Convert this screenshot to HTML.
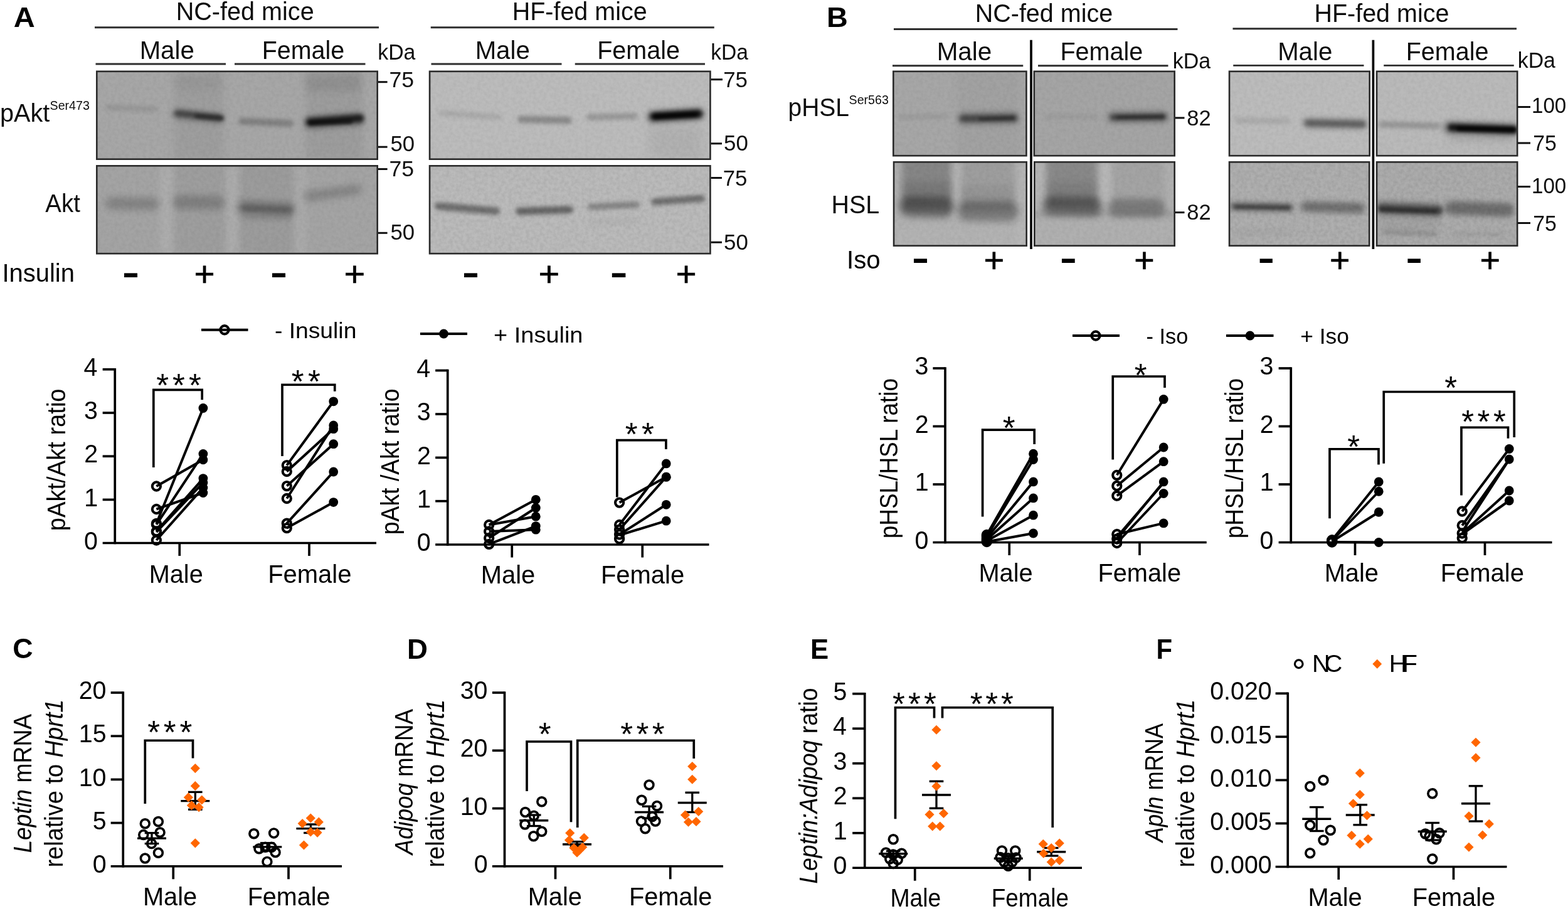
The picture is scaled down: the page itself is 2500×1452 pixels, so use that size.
<!DOCTYPE html>
<html><head><meta charset="utf-8"><title>Figure</title>
<style>html,body{margin:0;padding:0;background:#fff}svg{display:block}text{font-family:"Liberation Sans",Arial,Helvetica,sans-serif}</style>
</head><body>
<svg width="2500" height="1452" viewBox="0 0 2500 1452">
<rect width="2500" height="1452" fill="#fff"/>
<defs>
<filter id="b2" x="-30%" y="-300%" width="160%" height="700%"><feGaussianBlur stdDeviation="2"/></filter>
<filter id="b3" x="-30%" y="-300%" width="160%" height="700%"><feGaussianBlur stdDeviation="3"/></filter>
<filter id="b4" x="-30%" y="-300%" width="160%" height="700%"><feGaussianBlur stdDeviation="4"/></filter>
<filter id="b6" x="-30%" y="-300%" width="160%" height="700%"><feGaussianBlur stdDeviation="6"/></filter>
<filter id="b10" x="-30%" y="-300%" width="160%" height="700%"><feGaussianBlur stdDeviation="10"/></filter>
<filter id="grain" x="0" y="0" width="100%" height="100%"><feTurbulence type="fractalNoise" baseFrequency="0.18" numOctaves="3" seed="3"/><feColorMatrix type="matrix" values="0 0 0 0 0  0 0 0 0 0  0 0 0 0 0  1.6 0 0 0 -0.5"/></filter>
</defs>
<text transform="translate(21.75,43.00) scale(1.0527,1)" font-size="44.66" font-weight="bold" xml:space="preserve">A</text>
<text transform="translate(1317.89,43.00) scale(1.0462,1)" font-size="44.66" font-weight="bold" xml:space="preserve">B</text>
<text transform="translate(20.21,1049.30) scale(1.0025,1)" font-size="44.66" font-weight="bold" xml:space="preserve">C</text>
<text transform="translate(648.96,1049.50) scale(1.0222,1)" font-size="44.66" font-weight="bold" xml:space="preserve">D</text>
<text transform="translate(1292.08,1049.50) scale(0.9796,1)" font-size="44.66" font-weight="bold" xml:space="preserve">E</text>
<text transform="translate(1843.45,1049.50) scale(0.9391,1)" font-size="44.66" font-weight="bold" xml:space="preserve">F</text>
<text transform="translate(280.70,32.00) scale(0.9901,1)" font-size="39.99" fill="#0d0d0d" xml:space="preserve">NC-fed mice</text>
<line x1="151.00" y1="43.75" x2="604.00" y2="43.75" stroke="#2e2e2e" stroke-width="2.90"/>
<text transform="translate(222.65,94.00) scale(1.0051,1)" font-size="39.99" fill="#0d0d0d" xml:space="preserve">Male</text>
<text transform="translate(417.72,94.00) scale(0.9854,1)" font-size="39.99" fill="#0d0d0d" xml:space="preserve">Female</text>
<line x1="152.50" y1="102.00" x2="360.00" y2="102.00" stroke="#2e2e2e" stroke-width="2.90"/>
<line x1="374.00" y1="102.00" x2="582.50" y2="102.00" stroke="#2e2e2e" stroke-width="2.90"/>
<text transform="translate(602.24,95.00) scale(0.9529,1)" font-size="35.52" fill="#0d0d0d" xml:space="preserve">kDa</text>
<text transform="translate(816.71,32.00) scale(0.9871,1)" font-size="39.99" fill="#0d0d0d" xml:space="preserve">HF-fed mice</text>
<line x1="686.75" y1="43.75" x2="1138.75" y2="43.75" stroke="#2e2e2e" stroke-width="2.90"/>
<text transform="translate(757.65,94.00) scale(1.0051,1)" font-size="39.99" fill="#0d0d0d" xml:space="preserve">Male</text>
<text transform="translate(952.20,94.00) scale(0.9893,1)" font-size="39.99" fill="#0d0d0d" xml:space="preserve">Female</text>
<line x1="687.50" y1="102.00" x2="895.50" y2="102.00" stroke="#2e2e2e" stroke-width="2.90"/>
<line x1="916.75" y1="102.00" x2="1124.00" y2="102.00" stroke="#2e2e2e" stroke-width="2.90"/>
<text transform="translate(1133.16,95.00) scale(0.9463,1)" font-size="35.52" fill="#0d0d0d" xml:space="preserve">kDa</text>
<clipPath id="c1"><rect x="154.00" y="113.50" width="448.00" height="140.50"/></clipPath>
<rect x="154.00" y="113.50" width="448.00" height="140.50" fill="#a7a7a7"/>
<g clip-path="url(#c1)">
<rect x="277.0" y="113.0" width="80.0" height="142.0" fill="#000" fill-opacity="0.05" filter="url(#b6)"/>
<rect x="487.0" y="113.0" width="92.0" height="142.0" fill="#000" fill-opacity="0.06" filter="url(#b6)"/>
<rect x="487.0" y="118.0" width="88.0" height="28.0" fill="#000" fill-opacity="0.08" filter="url(#b6)"/>
<rect x="280.0" y="120.0" width="72.0" height="24.0" fill="#000" fill-opacity="0.04" filter="url(#b6)"/>
<rect x="168.0" y="166.5" width="84.1" height="9.0" rx="4.5" fill="#000" fill-opacity="0.10" transform="rotate(2.05 168.0 171.0)" filter="url(#b3)"/>
<rect x="274.0" y="172.0" width="84.5" height="18.0" rx="9.0" fill="#000" fill-opacity="0.22" transform="rotate(6.12 274.0 181.0)" filter="url(#b4)"/>
<rect x="278.0" y="175.0" width="78.4" height="10.0" rx="5.0" fill="#000" fill-opacity="0.45" transform="rotate(5.86 278.0 180.0)" filter="url(#b3)"/>
<rect x="310.0" y="181.0" width="47.2" height="8.0" rx="4.0" fill="#000" fill-opacity="0.35" transform="rotate(4.86 310.0 185.0)" filter="url(#b2)"/>
<rect x="380.0" y="187.5" width="88.1" height="11.0" rx="5.5" fill="#000" fill-opacity="0.24" transform="rotate(2.60 380.0 193.0)" filter="url(#b3)"/>
<rect x="484.0" y="185.0" width="98.2" height="22.0" rx="11.0" fill="#000" fill-opacity="0.30" transform="rotate(-4.09 484.0 196.0)" filter="url(#b4)"/>
<rect x="488.0" y="189.0" width="92.3" height="12.0" rx="6.0" fill="#000" fill-opacity="0.75" transform="rotate(-4.35 488.0 195.0)" filter="url(#b3)"/>
<rect x="492.0" y="192.5" width="70.0" height="7.0" rx="3.5" fill="#000" fill-opacity="0.50" transform="rotate(-1.64 492.0 196.0)" filter="url(#b2)"/>
<rect x="153.00" y="112.50" width="450.00" height="142.50" filter="url(#grain)" opacity="0.05"/>
</g>
<rect x="154.30" y="113.80" width="447.40" height="139.90" fill="none" stroke="#2a2a2a" stroke-width="2.6"/>
<clipPath id="c2"><rect x="154.00" y="264.00" width="448.00" height="140.50"/></clipPath>
<rect x="154.00" y="264.00" width="448.00" height="140.50" fill="#a4a4a4"/>
<g clip-path="url(#c2)">
<rect x="255.0" y="263.0" width="22.0" height="143.0" fill="#fff" fill-opacity="0.10" filter="url(#b6)"/>
<rect x="362.0" y="263.0" width="20.0" height="143.0" fill="#fff" fill-opacity="0.10" filter="url(#b6)"/>
<rect x="470.0" y="263.0" width="18.0" height="143.0" fill="#fff" fill-opacity="0.08" filter="url(#b6)"/>
<rect x="277.0" y="263.0" width="80.0" height="143.0" fill="#000" fill-opacity="0.04" filter="url(#b6)"/>
<rect x="380.0" y="263.0" width="88.0" height="143.0" fill="#000" fill-opacity="0.05" filter="url(#b6)"/>
<rect x="168.0" y="314.0" width="86.0" height="20.0" rx="10.0" fill="#000" fill-opacity="0.20" transform="rotate(0.67 168.0 324.0)" filter="url(#b6)"/>
<rect x="275.0" y="311.0" width="83.0" height="22.0" rx="11.0" fill="#000" fill-opacity="0.20" transform="rotate(0.69 275.0 322.0)" filter="url(#b6)"/>
<rect x="378.0" y="320.0" width="92.1" height="20.0" rx="10.0" fill="#000" fill-opacity="0.30" transform="rotate(2.49 378.0 330.0)" filter="url(#b6)"/>
<rect x="385.0" y="328.0" width="81.1" height="8.0" rx="4.0" fill="#000" fill-opacity="0.15" transform="rotate(2.12 385.0 332.0)" filter="url(#b3)"/>
<rect x="385.0" y="341.0" width="81.0" height="10.0" rx="5.0" fill="#000" fill-opacity="0.08" transform="rotate(0.71 385.0 346.0)" filter="url(#b4)"/>
<rect x="484.0" y="306.0" width="93.9" height="16.0" rx="8.0" fill="#000" fill-opacity="0.20" transform="rotate(-7.96 484.0 314.0)" filter="url(#b6)"/>
<rect x="153.00" y="263.00" width="450.00" height="142.50" filter="url(#grain)" opacity="0.05"/>
</g>
<rect x="154.30" y="264.30" width="447.40" height="139.90" fill="none" stroke="#2a2a2a" stroke-width="2.6"/>
<clipPath id="c3"><rect x="684.75" y="113.50" width="448.00" height="140.50"/></clipPath>
<rect x="684.75" y="113.50" width="448.00" height="140.50" fill="#bcbcbc"/>
<g clip-path="url(#c3)">
<rect x="1035.0" y="200.0" width="85.0" height="55.0" fill="#000" fill-opacity="0.06" filter="url(#b10)"/>
<rect x="700.0" y="175.5" width="100.2" height="9.0" rx="4.5" fill="#000" fill-opacity="0.10" transform="rotate(4.00 700.0 180.0)" filter="url(#b3)"/>
<rect x="825.0" y="184.5" width="87.0" height="11.0" rx="5.5" fill="#000" fill-opacity="0.28" transform="rotate(1.32 825.0 190.0)" filter="url(#b3)"/>
<rect x="935.0" y="182.0" width="82.0" height="10.0" rx="5.0" fill="#000" fill-opacity="0.20" transform="rotate(-1.40 935.0 187.0)" filter="url(#b3)"/>
<rect x="1030.0" y="176.0" width="94.2" height="22.0" rx="11.0" fill="#000" fill-opacity="0.30" transform="rotate(-3.65 1030.0 187.0)" filter="url(#b4)"/>
<rect x="1036.0" y="179.5" width="84.1" height="13.0" rx="6.5" fill="#000" fill-opacity="0.85" transform="rotate(-3.41 1036.0 186.0)" filter="url(#b3)"/>
<rect x="1042.0" y="182.5" width="70.1" height="7.0" rx="3.5" fill="#000" fill-opacity="0.70" transform="rotate(-3.27 1042.0 186.0)" filter="url(#b2)"/>
<rect x="683.75" y="112.50" width="450.00" height="142.50" filter="url(#grain)" opacity="0.05"/>
</g>
<rect x="685.05" y="113.80" width="447.40" height="139.90" fill="none" stroke="#2a2a2a" stroke-width="2.6"/>
<clipPath id="c4"><rect x="684.75" y="264.00" width="448.00" height="140.50"/></clipPath>
<rect x="684.75" y="264.00" width="448.00" height="140.50" fill="#bbbbbb"/>
<g clip-path="url(#c4)">
<rect x="693.0" y="322.0" width="104.4" height="12.0" rx="6.0" fill="#000" fill-opacity="0.42" transform="rotate(4.95 693.0 328.0)" filter="url(#b3)"/>
<rect x="822.0" y="331.0" width="92.0" height="12.0" rx="6.0" fill="#000" fill-opacity="0.46" transform="rotate(-1.87 822.0 337.0)" filter="url(#b3)"/>
<rect x="937.0" y="325.0" width="83.1" height="10.0" rx="5.0" fill="#000" fill-opacity="0.30" transform="rotate(-2.76 937.0 330.0)" filter="url(#b3)"/>
<rect x="1038.0" y="316.5" width="86.2" height="11.0" rx="5.5" fill="#000" fill-opacity="0.42" transform="rotate(-3.99 1038.0 322.0)" filter="url(#b3)"/>
<rect x="940.0" y="350.0" width="78.0" height="8.0" fill="#000" fill-opacity="0.05" filter="url(#b4)"/>
<rect x="683.75" y="263.00" width="450.00" height="142.50" filter="url(#grain)" opacity="0.08"/>
</g>
<rect x="685.05" y="264.30" width="447.40" height="139.90" fill="none" stroke="#2a2a2a" stroke-width="2.6"/>
<line x1="603.00" y1="130.70" x2="617.60" y2="130.70" stroke="#111" stroke-width="3.00"/>
<text transform="translate(620.42,138.80) scale(1.0341,1)" font-size="34.51" fill="#111" xml:space="preserve">75</text>
<line x1="603.00" y1="234.20" x2="617.60" y2="234.20" stroke="#111" stroke-width="3.00"/>
<text transform="translate(622.41,240.60) scale(1.0067,1)" font-size="34.51" fill="#111" xml:space="preserve">50</text>
<line x1="603.00" y1="269.50" x2="617.60" y2="269.50" stroke="#111" stroke-width="3.00"/>
<text transform="translate(620.42,281.00) scale(1.0341,1)" font-size="34.51" fill="#111" xml:space="preserve">75</text>
<line x1="603.00" y1="371.30" x2="617.60" y2="371.30" stroke="#111" stroke-width="3.00"/>
<text transform="translate(622.41,382.40) scale(1.0067,1)" font-size="34.51" fill="#111" xml:space="preserve">50</text>
<line x1="1133.50" y1="126.70" x2="1152.00" y2="126.70" stroke="#111" stroke-width="3.00"/>
<text transform="translate(1153.15,139.00) scale(1.0114,1)" font-size="34.51" fill="#111" xml:space="preserve">75</text>
<line x1="1133.50" y1="228.80" x2="1151.00" y2="228.80" stroke="#111" stroke-width="3.00"/>
<text transform="translate(1154.11,240.40) scale(1.0095,1)" font-size="34.51" fill="#111" xml:space="preserve">50</text>
<line x1="1133.50" y1="283.50" x2="1151.00" y2="283.50" stroke="#111" stroke-width="3.00"/>
<text transform="translate(1152.76,295.60) scale(1.0085,1)" font-size="34.51" fill="#111" xml:space="preserve">75</text>
<line x1="1133.50" y1="386.20" x2="1151.00" y2="386.20" stroke="#111" stroke-width="3.00"/>
<text transform="translate(1154.11,398.00) scale(1.0095,1)" font-size="34.51" fill="#111" xml:space="preserve">50</text>
<text transform="translate(-0.01,194.00) scale(0.9912,1)" font-size="39.99" fill="#0d0d0d" xml:space="preserve">pAkt</text>
<text transform="translate(79.59,175.00) scale(0.9906,1)" font-size="19.79" fill="#0d0d0d" xml:space="preserve">Ser473</text>
<text transform="translate(72.37,338.00) scale(0.9595,1)" font-size="39.99" fill="#0d0d0d" xml:space="preserve">Akt</text>
<text transform="translate(3.47,449.30) scale(0.9993,1)" font-size="39.99" xml:space="preserve">Insulin</text>
<text transform="translate(194.68,452.67) scale(1.3370,0.9005)" font-size="62" font-weight="bold">-</text>
<text transform="translate(430.68,452.67) scale(1.3370,0.9005)" font-size="62" font-weight="bold">-</text>
<text transform="translate(736.68,452.67) scale(1.3370,0.9005)" font-size="62" font-weight="bold">-</text>
<text transform="translate(972.61,452.67) scale(1.3688,0.9005)" font-size="62" font-weight="bold">-</text>
<text transform="translate(309.47,456.48) scale(0.9946,0.9667)" font-size="57" stroke="#000" stroke-width="0.65">+</text>
<text transform="translate(548.41,456.48) scale(1.0127,0.9667)" font-size="57" stroke="#000" stroke-width="0.65">+</text>
<text transform="translate(858.41,456.48) scale(1.0127,0.9667)" font-size="57" stroke="#000" stroke-width="0.65">+</text>
<text transform="translate(1077.47,456.48) scale(0.9946,0.9667)" font-size="57" stroke="#000" stroke-width="0.65">+</text>
<text transform="translate(1554.71,35.00) scale(0.9878,1)" font-size="39.99" fill="#0d0d0d" xml:space="preserve">NC-fed mice</text>
<line x1="1425.00" y1="46.50" x2="1877.50" y2="46.50" stroke="#2e2e2e" stroke-width="2.90"/>
<text transform="translate(1493.63,96.30) scale(1.0113,1)" font-size="39.99" fill="#0d0d0d" xml:space="preserve">Male</text>
<text transform="translate(1690.45,96.30) scale(0.9893,1)" font-size="39.99" fill="#0d0d0d" xml:space="preserve">Female</text>
<line x1="1423.00" y1="104.80" x2="1631.25" y2="104.80" stroke="#2e2e2e" stroke-width="2.90"/>
<line x1="1655.00" y1="104.80" x2="1862.50" y2="104.80" stroke="#2e2e2e" stroke-width="2.90"/>
<text transform="translate(1869.73,108.60) scale(0.9578,1)" font-size="35.52" fill="#0d0d0d" xml:space="preserve">kDa</text>
<text transform="translate(2095.46,34.70) scale(0.9871,1)" font-size="39.99" fill="#0d0d0d" xml:space="preserve">HF-fed mice</text>
<line x1="1965.50" y1="45.75" x2="2418.00" y2="45.75" stroke="#2e2e2e" stroke-width="2.90"/>
<text transform="translate(2037.15,96.30) scale(1.0051,1)" font-size="39.99" fill="#0d0d0d" xml:space="preserve">Male</text>
<text transform="translate(2241.70,96.30) scale(0.9893,1)" font-size="39.99" fill="#0d0d0d" xml:space="preserve">Female</text>
<line x1="1966.25" y1="104.40" x2="2174.50" y2="104.40" stroke="#2e2e2e" stroke-width="2.90"/>
<line x1="2206.25" y1="104.40" x2="2413.75" y2="104.40" stroke="#2e2e2e" stroke-width="2.90"/>
<text transform="translate(2419.74,108.00) scale(0.9529,1)" font-size="35.52" fill="#0d0d0d" xml:space="preserve">kDa</text>
<line x1="1644.00" y1="63.75" x2="1644.00" y2="397.00" stroke="#0a0a0a" stroke-width="3.80"/>
<line x1="2189.40" y1="63.75" x2="2189.40" y2="397.00" stroke="#0a0a0a" stroke-width="3.80"/>
<clipPath id="c5"><rect x="1424.00" y="113.50" width="212.75" height="135.00"/></clipPath>
<rect x="1424.00" y="113.50" width="212.75" height="135.00" fill="#a7a7a7"/>
<g clip-path="url(#c5)">
<rect x="1525.0" y="113.0" width="100.0" height="137.0" fill="#000" fill-opacity="0.03" filter="url(#b6)"/>
<rect x="1432.0" y="182.0" width="80.0" height="8.0" rx="4.0" fill="#000" fill-opacity="0.07" transform="rotate(0.00 1432.0 186.0)" filter="url(#b3)"/>
<rect x="1526.0" y="178.0" width="100.0" height="22.0" rx="11.0" fill="#000" fill-opacity="0.20" transform="rotate(-0.57 1526.0 189.0)" filter="url(#b4)"/>
<rect x="1530.0" y="183.5" width="92.0" height="11.0" rx="5.5" fill="#000" fill-opacity="0.46" transform="rotate(-0.62 1530.0 189.0)" filter="url(#b3)"/>
<rect x="1560.0" y="187.0" width="58.0" height="6.0" rx="3.0" fill="#000" fill-opacity="0.30" transform="rotate(-1.97 1560.0 190.0)" filter="url(#b2)"/>
<rect x="1423.00" y="112.50" width="214.75" height="137.00" filter="url(#grain)" opacity="0.05"/>
</g>
<rect x="1424.30" y="113.80" width="212.15" height="134.40" fill="none" stroke="#2a2a2a" stroke-width="2.6"/>
<clipPath id="c6"><rect x="1648.50" y="113.50" width="224.50" height="135.00"/></clipPath>
<rect x="1648.50" y="113.50" width="224.50" height="135.00" fill="#a5a5a5"/>
<g clip-path="url(#c6)">
<rect x="1665.0" y="182.0" width="85.0" height="8.0" rx="4.0" fill="#000" fill-opacity="0.06" transform="rotate(0.00 1665.0 186.0)" filter="url(#b3)"/>
<rect x="1764.0" y="176.5" width="100.0" height="21.0" rx="10.5" fill="#000" fill-opacity="0.20" transform="rotate(-0.57 1764.0 187.0)" filter="url(#b4)"/>
<rect x="1770.0" y="182.0" width="90.0" height="10.0" rx="5.0" fill="#000" fill-opacity="0.50" transform="rotate(-0.64 1770.0 187.0)" filter="url(#b3)"/>
<rect x="1780.0" y="184.5" width="76.0" height="5.0" rx="2.5" fill="#000" fill-opacity="0.35" transform="rotate(-0.75 1780.0 187.0)" filter="url(#b2)"/>
<rect x="1647.50" y="112.50" width="226.50" height="137.00" filter="url(#grain)" opacity="0.05"/>
</g>
<rect x="1648.80" y="113.80" width="223.90" height="134.40" fill="none" stroke="#2a2a2a" stroke-width="2.6"/>
<clipPath id="c7"><rect x="1424.75" y="258.00" width="212.25" height="134.00"/></clipPath>
<rect x="1424.75" y="258.00" width="212.25" height="134.00" fill="#b0b0b0"/>
<g clip-path="url(#c7)">
<rect x="1438.0" y="250.0" width="80.0" height="75.0" fill="#000" fill-opacity="0.24" filter="url(#b6)"/>
<rect x="1530.0" y="250.0" width="88.0" height="85.0" fill="#000" fill-opacity="0.10" filter="url(#b6)"/>
<rect x="1516.0" y="257.0" width="18.0" height="90.0" fill="#fff" fill-opacity="0.10" filter="url(#b4)"/>
<rect x="1622.0" y="257.0" width="16.0" height="136.0" fill="#fff" fill-opacity="0.06" filter="url(#b4)"/>
<rect x="1434.0" y="313.0" width="87.0" height="32.0" rx="16.0" fill="#000" fill-opacity="0.40" transform="rotate(1.32 1434.0 329.0)" filter="url(#b6)"/>
<rect x="1440.0" y="325.0" width="76.0" height="12.0" rx="6.0" fill="#000" fill-opacity="0.12" transform="rotate(0.75 1440.0 331.0)" filter="url(#b4)"/>
<rect x="1438.0" y="290.0" width="80.0" height="40.0" fill="#000" fill-opacity="0.10" filter="url(#b6)"/>
<rect x="1526.0" y="320.0" width="98.0" height="32.0" rx="16.0" fill="#000" fill-opacity="0.30" transform="rotate(0.58 1526.0 336.0)" filter="url(#b6)"/>
<rect x="1530.0" y="295.0" width="88.0" height="40.0" fill="#000" fill-opacity="0.06" filter="url(#b6)"/>
<rect x="1424.0" y="360.0" width="214.0" height="40.0" fill="#fff" fill-opacity="0.04" filter="url(#b6)"/>
<rect x="1423.75" y="257.00" width="214.25" height="136.00" filter="url(#grain)" opacity="0.05"/>
</g>
<rect x="1425.05" y="258.30" width="211.65" height="133.40" fill="none" stroke="#2a2a2a" stroke-width="2.6"/>
<clipPath id="c8"><rect x="1649.00" y="258.00" width="224.00" height="134.00"/></clipPath>
<rect x="1649.00" y="258.00" width="224.00" height="134.00" fill="#b0b0b0"/>
<g clip-path="url(#c8)">
<rect x="1668.0" y="250.0" width="82.0" height="75.0" fill="#000" fill-opacity="0.22" filter="url(#b6)"/>
<rect x="1772.0" y="250.0" width="84.0" height="80.0" fill="#000" fill-opacity="0.07" filter="url(#b6)"/>
<rect x="1752.0" y="257.0" width="20.0" height="90.0" fill="#fff" fill-opacity="0.10" filter="url(#b4)"/>
<rect x="1650.0" y="257.0" width="16.0" height="80.0" fill="#fff" fill-opacity="0.06" filter="url(#b4)"/>
<rect x="1662.0" y="313.0" width="96.0" height="30.0" rx="15.0" fill="#000" fill-opacity="0.38" transform="rotate(1.19 1662.0 328.0)" filter="url(#b6)"/>
<rect x="1672.0" y="323.0" width="78.0" height="10.0" rx="5.0" fill="#000" fill-opacity="0.12" transform="rotate(1.47 1672.0 328.0)" filter="url(#b4)"/>
<rect x="1668.0" y="290.0" width="82.0" height="38.0" fill="#000" fill-opacity="0.08" filter="url(#b6)"/>
<rect x="1766.0" y="317.0" width="92.0" height="28.0" rx="14.0" fill="#000" fill-opacity="0.28" transform="rotate(0.62 1766.0 331.0)" filter="url(#b6)"/>
<rect x="1648.0" y="336.0" width="226.0" height="10.0" fill="#000" fill-opacity="0.10" filter="url(#b4)"/>
<rect x="1648.00" y="257.00" width="226.00" height="136.00" filter="url(#grain)" opacity="0.05"/>
</g>
<rect x="1649.30" y="258.30" width="223.40" height="133.40" fill="none" stroke="#2a2a2a" stroke-width="2.6"/>
<clipPath id="c9"><rect x="1959.75" y="113.50" width="224.25" height="135.00"/></clipPath>
<rect x="1959.75" y="113.50" width="224.25" height="135.00" fill="#bcbcbc"/>
<g clip-path="url(#c9)">
<rect x="1968.0" y="187.5" width="89.0" height="9.0" rx="4.5" fill="#000" fill-opacity="0.10" transform="rotate(0.64 1968.0 192.0)" filter="url(#b3)"/>
<rect x="2076.0" y="187.0" width="104.0" height="18.0" rx="9.0" fill="#000" fill-opacity="0.22" transform="rotate(1.10 2076.0 196.0)" filter="url(#b4)"/>
<rect x="2080.0" y="191.0" width="98.0" height="10.0" rx="5.0" fill="#000" fill-opacity="0.36" transform="rotate(1.17 2080.0 196.0)" filter="url(#b3)"/>
<rect x="1958.75" y="112.50" width="226.25" height="137.00" filter="url(#grain)" opacity="0.05"/>
</g>
<rect x="1960.05" y="113.80" width="223.65" height="134.40" fill="none" stroke="#2a2a2a" stroke-width="2.6"/>
<clipPath id="c10"><rect x="2194.75" y="113.50" width="224.75" height="135.00"/></clipPath>
<rect x="2194.75" y="113.50" width="224.75" height="135.00" fill="#bababa"/>
<g clip-path="url(#c10)">
<rect x="2198.0" y="193.0" width="98.0" height="10.0" rx="5.0" fill="#000" fill-opacity="0.20" transform="rotate(1.75 2198.0 198.0)" filter="url(#b3)"/>
<rect x="2300.0" y="192.0" width="122.1" height="22.0" rx="11.0" fill="#000" fill-opacity="0.30" transform="rotate(1.88 2300.0 203.0)" filter="url(#b4)"/>
<rect x="2308.0" y="197.0" width="112.1" height="12.0" rx="6.0" fill="#000" fill-opacity="0.85" transform="rotate(2.05 2308.0 203.0)" filter="url(#b3)"/>
<rect x="2322.0" y="201.5" width="94.0" height="7.0" rx="3.5" fill="#000" fill-opacity="0.70" transform="rotate(1.22 2322.0 205.0)" filter="url(#b2)"/>
<rect x="2310.0" y="215.0" width="100.0" height="12.0" fill="#000" fill-opacity="0.08" filter="url(#b6)"/>
<rect x="2193.75" y="112.50" width="226.75" height="137.00" filter="url(#grain)" opacity="0.05"/>
</g>
<rect x="2195.05" y="113.80" width="224.15" height="134.40" fill="none" stroke="#2a2a2a" stroke-width="2.6"/>
<clipPath id="c11"><rect x="1959.75" y="258.00" width="223.75" height="134.00"/></clipPath>
<rect x="1959.75" y="258.00" width="223.75" height="134.00" fill="#afafaf"/>
<g clip-path="url(#c11)">
<rect x="1960.0" y="321.0" width="104.0" height="16.0" rx="8.0" fill="#000" fill-opacity="0.22" transform="rotate(1.10 1960.0 329.0)" filter="url(#b4)"/>
<rect x="1964.0" y="324.5" width="96.0" height="9.0" rx="4.5" fill="#000" fill-opacity="0.42" transform="rotate(1.19 1964.0 329.0)" filter="url(#b3)"/>
<rect x="1970.0" y="328.0" width="86.0" height="4.0" rx="2.0" fill="#000" fill-opacity="0.25" transform="rotate(0.67 1970.0 330.0)" filter="url(#b2)"/>
<rect x="2074.0" y="320.5" width="102.0" height="17.0" rx="8.5" fill="#000" fill-opacity="0.36" transform="rotate(1.68 2074.0 329.0)" filter="url(#b4)"/>
<rect x="1966.0" y="366.0" width="90.0" height="8.0" fill="#000" fill-opacity="0.05" filter="url(#b4)"/>
<rect x="1958.75" y="257.00" width="225.75" height="136.00" filter="url(#grain)" opacity="0.09"/>
</g>
<rect x="1960.05" y="258.30" width="223.15" height="133.40" fill="none" stroke="#2a2a2a" stroke-width="2.6"/>
<clipPath id="c12"><rect x="2194.75" y="258.00" width="224.75" height="134.00"/></clipPath>
<rect x="2194.75" y="258.00" width="224.75" height="134.00" fill="#acacac"/>
<g clip-path="url(#c12)">
<rect x="2192.0" y="319.0" width="110.1" height="24.0" rx="12.0" fill="#000" fill-opacity="0.25" transform="rotate(2.08 2192.0 331.0)" filter="url(#b4)"/>
<rect x="2196.0" y="325.5" width="104.1" height="13.0" rx="6.5" fill="#000" fill-opacity="0.48" transform="rotate(2.20 2196.0 332.0)" filter="url(#b3)"/>
<rect x="2200.0" y="331.0" width="92.0" height="6.0" rx="3.0" fill="#000" fill-opacity="0.30" transform="rotate(1.87 2200.0 334.0)" filter="url(#b2)"/>
<rect x="2304.0" y="320.0" width="110.1" height="22.0" rx="11.0" fill="#000" fill-opacity="0.36" transform="rotate(2.08 2304.0 331.0)" filter="url(#b4)"/>
<rect x="2203.0" y="366.5" width="89.1" height="7.0" rx="3.5" fill="#000" fill-opacity="0.16" transform="rotate(1.93 2203.0 370.0)" filter="url(#b3)"/>
<rect x="2316.0" y="370.0" width="84.0" height="6.0" rx="3.0" fill="#000" fill-opacity="0.08" transform="rotate(0.00 2316.0 373.0)" filter="url(#b3)"/>
<rect x="2200.0" y="345.0" width="96.0" height="22.0" fill="#000" fill-opacity="0.06" filter="url(#b6)"/>
<rect x="2193.75" y="257.00" width="226.75" height="136.00" filter="url(#grain)" opacity="0.09"/>
</g>
<rect x="2195.05" y="258.30" width="224.15" height="133.40" fill="none" stroke="#2a2a2a" stroke-width="2.6"/>
<line x1="1874.00" y1="187.90" x2="1888.50" y2="187.90" stroke="#111" stroke-width="3.00"/>
<text transform="translate(1892.25,199.60) scale(1.0014,1)" font-size="34.51" fill="#111" xml:space="preserve">82</text>
<line x1="1874.00" y1="338.60" x2="1888.50" y2="338.60" stroke="#111" stroke-width="3.00"/>
<text transform="translate(1892.25,350.40) scale(1.0014,1)" font-size="34.51" fill="#111" xml:space="preserve">82</text>
<line x1="2420.00" y1="170.50" x2="2440.00" y2="170.50" stroke="#111" stroke-width="3.00"/>
<text transform="translate(2441.96,180.30) scale(0.9607,1)" font-size="34.51" fill="#111" xml:space="preserve">100</text>
<line x1="2420.00" y1="228.00" x2="2440.00" y2="228.00" stroke="#111" stroke-width="3.00"/>
<text transform="translate(2444.31,240.20) scale(0.9801,1)" font-size="34.51" fill="#111" xml:space="preserve">75</text>
<line x1="2420.00" y1="297.50" x2="2440.00" y2="297.50" stroke="#111" stroke-width="3.00"/>
<text transform="translate(2441.96,307.80) scale(0.9607,1)" font-size="34.51" fill="#111" xml:space="preserve">100</text>
<line x1="2420.00" y1="355.50" x2="2440.00" y2="355.50" stroke="#111" stroke-width="3.00"/>
<text transform="translate(2444.31,367.60) scale(0.9801,1)" font-size="34.51" fill="#111" xml:space="preserve">75</text>
<text transform="translate(1256.53,185.00) scale(0.9746,1)" font-size="39.99" fill="#0d0d0d" xml:space="preserve">pHSL</text>
<text transform="translate(1353.59,165.50) scale(0.9906,1)" font-size="19.79" fill="#0d0d0d" xml:space="preserve">Ser563</text>
<text transform="translate(1325.46,340.30) scale(0.9872,1)" font-size="39.99" fill="#0d0d0d" xml:space="preserve">HSL</text>
<text transform="translate(1350.01,427.50) scale(1.0030,1)" font-size="39.99" xml:space="preserve">Iso</text>
<text transform="translate(1453.68,430.47) scale(1.3370,0.9005)" font-size="62" font-weight="bold">-</text>
<text transform="translate(1689.72,430.47) scale(1.3211,0.9005)" font-size="62" font-weight="bold">-</text>
<text transform="translate(2005.55,430.47) scale(1.2893,0.9005)" font-size="62" font-weight="bold">-</text>
<text transform="translate(2241.26,430.47) scale(1.3052,0.9005)" font-size="62" font-weight="bold">-</text>
<text transform="translate(1568.49,434.48) scale(0.9855,0.9667)" font-size="57" stroke="#000" stroke-width="0.65">+</text>
<text transform="translate(1808.27,434.48) scale(0.9764,0.9667)" font-size="57" stroke="#000" stroke-width="0.65">+</text>
<text transform="translate(2120.02,434.48) scale(0.9764,0.9667)" font-size="57" stroke="#000" stroke-width="0.65">+</text>
<text transform="translate(2359.52,434.48) scale(0.9764,0.9667)" font-size="57" stroke="#000" stroke-width="0.65">+</text>
<line x1="183.25" y1="586.90" x2="183.25" y2="867.35" stroke="#000" stroke-width="3.70"/>
<line x1="163.65" y1="865.50" x2="600.00" y2="865.50" stroke="#000" stroke-width="3.70"/>
<line x1="163.65" y1="588.75" x2="183.25" y2="588.75" stroke="#000" stroke-width="3.70"/>
<line x1="163.65" y1="658.00" x2="183.25" y2="658.00" stroke="#000" stroke-width="3.70"/>
<line x1="163.65" y1="727.20" x2="183.25" y2="727.20" stroke="#000" stroke-width="3.70"/>
<line x1="163.65" y1="796.40" x2="183.25" y2="796.40" stroke="#000" stroke-width="3.70"/>
<line x1="286.25" y1="865.50" x2="286.25" y2="886.00" stroke="#000" stroke-width="3.70"/>
<line x1="493.00" y1="865.50" x2="493.00" y2="886.00" stroke="#000" stroke-width="3.70"/>
<text transform="translate(133.55,598.95) scale(0.9852,1)" font-size="39.99" xml:space="preserve">4</text>
<text transform="translate(134.07,668.20) scale(0.9852,1)" font-size="39.99" xml:space="preserve">3</text>
<text transform="translate(134.34,737.40) scale(0.9852,1)" font-size="39.99" xml:space="preserve">2</text>
<text transform="translate(134.34,806.60) scale(0.9852,1)" font-size="39.99" xml:space="preserve">1</text>
<text transform="translate(133.94,875.70) scale(0.9852,1)" font-size="39.99" xml:space="preserve">0</text>
<text transform="translate(103.60,846.17) rotate(-90) scale(0.9538,1)" font-size="39.99" xml:space="preserve">pAkt/Akt ratio</text>
<line x1="249.40" y1="775.00" x2="323.90" y2="732.80" stroke="#000" stroke-width="4.00"/>
<line x1="249.40" y1="811.50" x2="323.90" y2="785.50" stroke="#000" stroke-width="4.00"/>
<line x1="249.40" y1="834.40" x2="323.90" y2="650.50" stroke="#000" stroke-width="4.00"/>
<line x1="249.40" y1="836.00" x2="323.90" y2="723.50" stroke="#000" stroke-width="4.00"/>
<line x1="249.40" y1="846.80" x2="323.90" y2="762.60" stroke="#000" stroke-width="4.00"/>
<line x1="249.40" y1="848.00" x2="323.90" y2="769.40" stroke="#000" stroke-width="4.00"/>
<line x1="249.40" y1="861.00" x2="323.90" y2="777.40" stroke="#000" stroke-width="4.00"/>
<circle cx="249.40" cy="775.00" r="6.60" fill="none" stroke="#000" stroke-width="4.10"/>
<circle cx="323.90" cy="732.80" r="7.40" fill="#000"/>
<circle cx="249.40" cy="811.50" r="6.60" fill="none" stroke="#000" stroke-width="4.10"/>
<circle cx="323.90" cy="785.50" r="7.40" fill="#000"/>
<circle cx="249.40" cy="834.40" r="6.60" fill="none" stroke="#000" stroke-width="4.10"/>
<circle cx="323.90" cy="650.50" r="7.40" fill="#000"/>
<circle cx="249.40" cy="836.00" r="6.60" fill="none" stroke="#000" stroke-width="4.10"/>
<circle cx="323.90" cy="723.50" r="7.40" fill="#000"/>
<circle cx="249.40" cy="846.80" r="6.60" fill="none" stroke="#000" stroke-width="4.10"/>
<circle cx="323.90" cy="762.60" r="7.40" fill="#000"/>
<circle cx="249.40" cy="848.00" r="6.60" fill="none" stroke="#000" stroke-width="4.10"/>
<circle cx="323.90" cy="769.40" r="7.40" fill="#000"/>
<circle cx="249.40" cy="861.00" r="6.60" fill="none" stroke="#000" stroke-width="4.10"/>
<circle cx="323.90" cy="777.40" r="7.40" fill="#000"/>
<line x1="457.30" y1="741.60" x2="531.70" y2="639.80" stroke="#000" stroke-width="4.00"/>
<line x1="457.30" y1="751.50" x2="531.70" y2="683.70" stroke="#000" stroke-width="4.00"/>
<line x1="457.30" y1="774.60" x2="531.70" y2="707.70" stroke="#000" stroke-width="4.00"/>
<line x1="457.30" y1="794.50" x2="531.70" y2="677.90" stroke="#000" stroke-width="4.00"/>
<line x1="457.30" y1="834.20" x2="531.70" y2="752.00" stroke="#000" stroke-width="4.00"/>
<line x1="457.30" y1="841.60" x2="531.70" y2="800.60" stroke="#000" stroke-width="4.00"/>
<circle cx="457.30" cy="741.60" r="6.60" fill="none" stroke="#000" stroke-width="4.10"/>
<circle cx="531.70" cy="639.80" r="7.40" fill="#000"/>
<circle cx="457.30" cy="751.50" r="6.60" fill="none" stroke="#000" stroke-width="4.10"/>
<circle cx="531.70" cy="683.70" r="7.40" fill="#000"/>
<circle cx="457.30" cy="774.60" r="6.60" fill="none" stroke="#000" stroke-width="4.10"/>
<circle cx="531.70" cy="707.70" r="7.40" fill="#000"/>
<circle cx="457.30" cy="794.50" r="6.60" fill="none" stroke="#000" stroke-width="4.10"/>
<circle cx="531.70" cy="677.90" r="7.40" fill="#000"/>
<circle cx="457.30" cy="834.20" r="6.60" fill="none" stroke="#000" stroke-width="4.10"/>
<circle cx="531.70" cy="752.00" r="7.40" fill="#000"/>
<circle cx="457.30" cy="841.60" r="6.60" fill="none" stroke="#000" stroke-width="4.10"/>
<circle cx="531.70" cy="800.60" r="7.40" fill="#000"/>
<polyline points="244.80,745.00 244.80,621.30 322.20,621.30 322.20,637.30" fill="none" stroke="#000" stroke-width="3.70" stroke-linejoin="miter"/>
<text x="249.15" y="632.02" font-size="51" letter-spacing="6.06">***</text>
<polyline points="450.00,727.00 450.00,613.25 533.75,613.25 533.75,623.75" fill="none" stroke="#000" stroke-width="3.70" stroke-linejoin="miter"/>
<text x="464.65" y="625.52" font-size="51" letter-spacing="6.46">**</text>
<text transform="translate(237.69,928.50) scale(0.9929,1)" font-size="39.99" xml:space="preserve">Male</text>
<text transform="translate(427.17,928.50) scale(0.9991,1)" font-size="39.99" xml:space="preserve">Female</text>
<line x1="321.00" y1="525.75" x2="395.50" y2="525.75" stroke="#000" stroke-width="4.00"/>
<circle cx="358" cy="525.75" r="6.6" fill="none" stroke="#000" stroke-width="4.1"/>
<text transform="translate(437.88,538.75) scale(1.0802,1)" font-size="34.51" xml:space="preserve">- Insulin</text>
<line x1="670.00" y1="532.00" x2="745.00" y2="532.00" stroke="#000" stroke-width="4.00"/>
<circle cx="707.50" cy="532.00" r="7.40" fill="#000"/>
<text transform="translate(787.10,545.50) scale(1.0996,1)" font-size="34.51" xml:space="preserve">+ Insulin</text>
<line x1="713.75" y1="588.65" x2="713.75" y2="869.85" stroke="#000" stroke-width="3.70"/>
<line x1="694.15" y1="868.00" x2="1130.50" y2="868.00" stroke="#000" stroke-width="3.70"/>
<line x1="694.15" y1="590.50" x2="713.75" y2="590.50" stroke="#000" stroke-width="3.70"/>
<line x1="694.15" y1="660.00" x2="713.75" y2="660.00" stroke="#000" stroke-width="3.70"/>
<line x1="694.15" y1="729.40" x2="713.75" y2="729.40" stroke="#000" stroke-width="3.70"/>
<line x1="694.15" y1="798.70" x2="713.75" y2="798.70" stroke="#000" stroke-width="3.70"/>
<line x1="816.25" y1="868.00" x2="816.25" y2="888.50" stroke="#000" stroke-width="3.70"/>
<line x1="1024.25" y1="868.00" x2="1024.25" y2="888.50" stroke="#000" stroke-width="3.70"/>
<text transform="translate(664.25,600.70) scale(0.9852,1)" font-size="39.99" xml:space="preserve">4</text>
<text transform="translate(664.77,670.20) scale(0.9852,1)" font-size="39.99" xml:space="preserve">3</text>
<text transform="translate(665.04,739.60) scale(0.9852,1)" font-size="39.99" xml:space="preserve">2</text>
<text transform="translate(665.04,808.90) scale(0.9852,1)" font-size="39.99" xml:space="preserve">1</text>
<text transform="translate(664.64,878.20) scale(0.9852,1)" font-size="39.99" xml:space="preserve">0</text>
<text transform="translate(636.00,852.37) rotate(-90) scale(0.9357,1)" font-size="39.99" xml:space="preserve">pAkt /Akt ratio</text>
<line x1="779.70" y1="836.50" x2="854.30" y2="796.30" stroke="#000" stroke-width="4.00"/>
<line x1="779.70" y1="836.50" x2="854.30" y2="823.20" stroke="#000" stroke-width="4.00"/>
<line x1="779.70" y1="857.50" x2="854.30" y2="809.50" stroke="#000" stroke-width="4.00"/>
<line x1="779.70" y1="847.00" x2="854.30" y2="844.20" stroke="#000" stroke-width="4.00"/>
<line x1="779.70" y1="867.30" x2="854.30" y2="838.60" stroke="#000" stroke-width="4.00"/>
<circle cx="779.70" cy="836.50" r="6.60" fill="none" stroke="#000" stroke-width="4.10"/>
<circle cx="779.70" cy="847.00" r="6.60" fill="none" stroke="#000" stroke-width="4.10"/>
<circle cx="779.70" cy="857.50" r="6.60" fill="none" stroke="#000" stroke-width="4.10"/>
<circle cx="779.70" cy="867.30" r="6.60" fill="none" stroke="#000" stroke-width="4.10"/>
<circle cx="854.30" cy="796.30" r="7.40" fill="#000"/>
<circle cx="854.30" cy="823.20" r="7.40" fill="#000"/>
<circle cx="854.30" cy="809.50" r="7.40" fill="#000"/>
<circle cx="854.30" cy="844.20" r="7.40" fill="#000"/>
<circle cx="854.30" cy="838.60" r="7.40" fill="#000"/>
<line x1="987.60" y1="801.10" x2="1062.20" y2="760.20" stroke="#000" stroke-width="4.00"/>
<line x1="987.60" y1="836.50" x2="1062.20" y2="738.90" stroke="#000" stroke-width="4.00"/>
<line x1="987.60" y1="844.20" x2="1062.20" y2="760.20" stroke="#000" stroke-width="4.00"/>
<line x1="987.60" y1="851.90" x2="1062.20" y2="804.30" stroke="#000" stroke-width="4.00"/>
<line x1="987.60" y1="853.00" x2="1062.20" y2="830.20" stroke="#000" stroke-width="4.00"/>
<circle cx="987.60" cy="801.10" r="6.60" fill="none" stroke="#000" stroke-width="4.10"/>
<circle cx="987.60" cy="836.50" r="6.60" fill="none" stroke="#000" stroke-width="4.10"/>
<circle cx="987.60" cy="844.20" r="6.60" fill="none" stroke="#000" stroke-width="4.10"/>
<circle cx="987.60" cy="851.90" r="6.60" fill="none" stroke="#000" stroke-width="4.10"/>
<circle cx="987.60" cy="858.90" r="6.60" fill="none" stroke="#000" stroke-width="4.10"/>
<circle cx="1062.20" cy="760.20" r="7.40" fill="#000"/>
<circle cx="1062.20" cy="738.90" r="7.40" fill="#000"/>
<circle cx="1062.20" cy="760.20" r="7.40" fill="#000"/>
<circle cx="1062.20" cy="804.30" r="7.40" fill="#000"/>
<circle cx="1062.20" cy="830.20" r="7.40" fill="#000"/>
<polyline points="983.80,792.40 983.80,701.70 1061.90,701.70 1061.90,716.10" fill="none" stroke="#000" stroke-width="3.70" stroke-linejoin="miter"/>
<text x="996.65" y="709.77" font-size="51" letter-spacing="6.46">**</text>
<text transform="translate(766.67,930.00) scale(0.9990,1)" font-size="39.99" xml:space="preserve">Male</text>
<text transform="translate(957.92,930.00) scale(0.9991,1)" font-size="39.99" xml:space="preserve">Female</text>
<line x1="1507.00" y1="585.15" x2="1507.00" y2="866.35" stroke="#000" stroke-width="3.70"/>
<line x1="1487.40" y1="864.50" x2="1923.75" y2="864.50" stroke="#000" stroke-width="3.70"/>
<line x1="1487.40" y1="587.00" x2="1507.00" y2="587.00" stroke="#000" stroke-width="3.70"/>
<line x1="1487.40" y1="679.50" x2="1507.00" y2="679.50" stroke="#000" stroke-width="3.70"/>
<line x1="1487.40" y1="772.00" x2="1507.00" y2="772.00" stroke="#000" stroke-width="3.70"/>
<line x1="1609.25" y1="864.50" x2="1609.25" y2="885.00" stroke="#000" stroke-width="3.70"/>
<line x1="1817.00" y1="864.50" x2="1817.00" y2="885.00" stroke="#000" stroke-width="3.70"/>
<text transform="translate(1458.52,597.20) scale(0.9852,1)" font-size="39.99" xml:space="preserve">3</text>
<text transform="translate(1458.79,689.70) scale(0.9852,1)" font-size="39.99" xml:space="preserve">2</text>
<text transform="translate(1458.79,782.20) scale(0.9852,1)" font-size="39.99" xml:space="preserve">1</text>
<text transform="translate(1458.39,874.70) scale(0.9852,1)" font-size="39.99" xml:space="preserve">0</text>
<text transform="translate(1431.00,858.34) rotate(-90) scale(0.9244,1)" font-size="39.99" xml:space="preserve">pHSL/HSL ratio</text>
<line x1="1573.30" y1="852.50" x2="1647.50" y2="723.20" stroke="#000" stroke-width="4.00"/>
<line x1="1573.30" y1="855.00" x2="1647.50" y2="732.50" stroke="#000" stroke-width="4.00"/>
<line x1="1573.30" y1="857.50" x2="1647.50" y2="767.90" stroke="#000" stroke-width="4.00"/>
<line x1="1573.30" y1="860.00" x2="1647.50" y2="793.90" stroke="#000" stroke-width="4.00"/>
<line x1="1573.30" y1="862.00" x2="1647.50" y2="821.20" stroke="#000" stroke-width="4.00"/>
<line x1="1573.30" y1="863.50" x2="1647.50" y2="850.00" stroke="#000" stroke-width="4.00"/>
<circle cx="1573.30" cy="852.50" r="6.60" fill="none" stroke="#000" stroke-width="4.10"/>
<circle cx="1573.30" cy="855.00" r="6.60" fill="none" stroke="#000" stroke-width="4.10"/>
<circle cx="1573.30" cy="857.50" r="6.60" fill="none" stroke="#000" stroke-width="4.10"/>
<circle cx="1573.30" cy="860.00" r="6.60" fill="none" stroke="#000" stroke-width="4.10"/>
<circle cx="1573.30" cy="862.00" r="6.60" fill="none" stroke="#000" stroke-width="4.10"/>
<circle cx="1573.30" cy="863.50" r="6.60" fill="none" stroke="#000" stroke-width="4.10"/>
<circle cx="1647.50" cy="723.20" r="7.40" fill="#000"/>
<circle cx="1647.50" cy="732.50" r="7.40" fill="#000"/>
<circle cx="1647.50" cy="767.90" r="7.40" fill="#000"/>
<circle cx="1647.50" cy="793.90" r="7.40" fill="#000"/>
<circle cx="1647.50" cy="821.20" r="7.40" fill="#000"/>
<circle cx="1647.50" cy="850.00" r="7.40" fill="#000"/>
<line x1="1780.80" y1="757.30" x2="1855.20" y2="636.40" stroke="#000" stroke-width="4.00"/>
<line x1="1780.80" y1="774.40" x2="1855.20" y2="713.00" stroke="#000" stroke-width="4.00"/>
<line x1="1780.80" y1="790.20" x2="1855.20" y2="735.70" stroke="#000" stroke-width="4.00"/>
<line x1="1780.80" y1="859.00" x2="1855.20" y2="767.90" stroke="#000" stroke-width="4.00"/>
<line x1="1780.80" y1="865.50" x2="1855.20" y2="786.50" stroke="#000" stroke-width="4.00"/>
<line x1="1780.80" y1="851.50" x2="1855.20" y2="833.90" stroke="#000" stroke-width="4.00"/>
<line x1="1780.80" y1="856.00" x2="1855.20" y2="769.50" stroke="#000" stroke-width="4.00"/>
<circle cx="1780.80" cy="757.30" r="6.60" fill="none" stroke="#000" stroke-width="4.10"/>
<circle cx="1855.20" cy="636.40" r="7.40" fill="#000"/>
<circle cx="1780.80" cy="774.40" r="6.60" fill="none" stroke="#000" stroke-width="4.10"/>
<circle cx="1855.20" cy="713.00" r="7.40" fill="#000"/>
<circle cx="1780.80" cy="790.20" r="6.60" fill="none" stroke="#000" stroke-width="4.10"/>
<circle cx="1855.20" cy="735.70" r="7.40" fill="#000"/>
<circle cx="1780.80" cy="859.00" r="6.60" fill="none" stroke="#000" stroke-width="4.10"/>
<circle cx="1855.20" cy="767.90" r="7.40" fill="#000"/>
<circle cx="1780.80" cy="865.50" r="6.60" fill="none" stroke="#000" stroke-width="4.10"/>
<circle cx="1855.20" cy="786.50" r="7.40" fill="#000"/>
<circle cx="1780.80" cy="851.50" r="6.60" fill="none" stroke="#000" stroke-width="4.10"/>
<circle cx="1855.20" cy="833.90" r="7.40" fill="#000"/>
<polyline points="1566.60,823.60 1566.60,685.10 1649.20,685.10 1649.20,708.00" fill="none" stroke="#000" stroke-width="3.70" stroke-linejoin="miter"/>
<text x="1598.81" y="699.77" font-size="51">*</text>
<polyline points="1774.25,732.50 1774.25,600.00 1857.00,600.00 1857.00,618.00" fill="none" stroke="#000" stroke-width="3.70" stroke-linejoin="miter"/>
<text x="1808.81" y="615.52" font-size="51">*</text>
<text transform="translate(1560.43,926.50) scale(0.9959,1)" font-size="39.99" xml:space="preserve">Male</text>
<text transform="translate(1750.43,926.50) scale(0.9952,1)" font-size="39.99" xml:space="preserve">Female</text>
<line x1="1710.00" y1="535.00" x2="1785.00" y2="535.00" stroke="#000" stroke-width="4.00"/>
<circle cx="1747" cy="535" r="6.6" fill="none" stroke="#000" stroke-width="4.1"/>
<text transform="translate(1827.51,547.50) scale(0.9971,1)" font-size="34.51" xml:space="preserve">- Iso</text>
<line x1="1955.00" y1="535.00" x2="2030.50" y2="535.00" stroke="#000" stroke-width="4.00"/>
<circle cx="1993.00" cy="535.00" r="7.40" fill="#000"/>
<text transform="translate(2073.23,547.50) scale(1.0264,1)" font-size="34.51" xml:space="preserve">+ Iso</text>
<line x1="2058.25" y1="585.15" x2="2058.25" y2="866.35" stroke="#000" stroke-width="3.70"/>
<line x1="2038.65" y1="864.50" x2="2474.50" y2="864.50" stroke="#000" stroke-width="3.70"/>
<line x1="2038.65" y1="587.00" x2="2058.25" y2="587.00" stroke="#000" stroke-width="3.70"/>
<line x1="2038.65" y1="679.50" x2="2058.25" y2="679.50" stroke="#000" stroke-width="3.70"/>
<line x1="2038.65" y1="772.00" x2="2058.25" y2="772.00" stroke="#000" stroke-width="3.70"/>
<line x1="2160.50" y1="864.50" x2="2160.50" y2="885.00" stroke="#000" stroke-width="3.70"/>
<line x1="2367.50" y1="864.50" x2="2367.50" y2="885.00" stroke="#000" stroke-width="3.70"/>
<text transform="translate(2008.52,597.20) scale(0.9852,1)" font-size="39.99" xml:space="preserve">3</text>
<text transform="translate(2008.79,689.70) scale(0.9852,1)" font-size="39.99" xml:space="preserve">2</text>
<text transform="translate(2008.79,782.20) scale(0.9852,1)" font-size="39.99" xml:space="preserve">1</text>
<text transform="translate(2008.39,874.70) scale(0.9852,1)" font-size="39.99" xml:space="preserve">0</text>
<text transform="translate(1982.00,858.34) rotate(-90) scale(0.9244,1)" font-size="39.99" xml:space="preserve">pHSL/HSL ratio</text>
<line x1="2123.75" y1="860.75" x2="2198.25" y2="768.00" stroke="#000" stroke-width="4.00"/>
<line x1="2123.75" y1="862.00" x2="2198.25" y2="783.25" stroke="#000" stroke-width="4.00"/>
<line x1="2123.75" y1="863.00" x2="2198.25" y2="816.25" stroke="#000" stroke-width="4.00"/>
<line x1="2123.75" y1="864.00" x2="2198.25" y2="864.50" stroke="#000" stroke-width="4.00"/>
<circle cx="2123.75" cy="860.75" r="6.60" fill="none" stroke="#000" stroke-width="4.10"/>
<circle cx="2123.75" cy="862.00" r="6.60" fill="none" stroke="#000" stroke-width="4.10"/>
<circle cx="2123.75" cy="863.00" r="6.60" fill="none" stroke="#000" stroke-width="4.10"/>
<circle cx="2123.75" cy="864.00" r="6.60" fill="none" stroke="#000" stroke-width="4.10"/>
<circle cx="2198.25" cy="768.00" r="7.40" fill="#000"/>
<circle cx="2198.25" cy="783.25" r="7.40" fill="#000"/>
<circle cx="2198.25" cy="816.25" r="7.40" fill="#000"/>
<circle cx="2198.25" cy="864.50" r="7.40" fill="#000"/>
<line x1="2331.25" y1="815.00" x2="2406.25" y2="715.50" stroke="#000" stroke-width="4.00"/>
<line x1="2331.25" y1="837.50" x2="2406.25" y2="732.00" stroke="#000" stroke-width="4.00"/>
<line x1="2331.25" y1="847.50" x2="2406.25" y2="732.50" stroke="#000" stroke-width="4.00"/>
<line x1="2331.25" y1="850.00" x2="2406.25" y2="782.00" stroke="#000" stroke-width="4.00"/>
<line x1="2331.25" y1="851.25" x2="2406.25" y2="798.00" stroke="#000" stroke-width="4.00"/>
<circle cx="2331.25" cy="815.00" r="6.60" fill="none" stroke="#000" stroke-width="4.10"/>
<circle cx="2331.25" cy="837.50" r="6.60" fill="none" stroke="#000" stroke-width="4.10"/>
<circle cx="2331.25" cy="850.00" r="6.60" fill="none" stroke="#000" stroke-width="4.10"/>
<circle cx="2331.25" cy="857.50" r="6.60" fill="none" stroke="#000" stroke-width="4.10"/>
<circle cx="2406.25" cy="715.50" r="7.40" fill="#000"/>
<circle cx="2406.25" cy="732.00" r="7.40" fill="#000"/>
<circle cx="2406.25" cy="782.00" r="7.40" fill="#000"/>
<circle cx="2406.25" cy="798.00" r="7.40" fill="#000"/>
<polyline points="2120.00,826.25 2120.00,715.75 2198.00,715.75 2198.00,740.50" fill="none" stroke="#000" stroke-width="3.70" stroke-linejoin="miter"/>
<text x="2148.31" y="729.77" font-size="51">*</text>
<polyline points="2206.25,738.75 2206.25,624.50 2414.25,624.50 2414.25,697.00" fill="none" stroke="#000" stroke-width="3.70" stroke-linejoin="miter"/>
<text x="2303.31" y="635.52" font-size="51">*</text>
<polyline points="2330.00,789.50 2330.00,681.25 2404.50,681.25 2404.50,698.75" fill="none" stroke="#000" stroke-width="3.70" stroke-linejoin="miter"/>
<text x="2330.15" y="689.77" font-size="51" letter-spacing="5.56">***</text>
<text transform="translate(2111.68,926.50) scale(0.9959,1)" font-size="39.99" xml:space="preserve">Male</text>
<text transform="translate(2296.67,926.50) scale(0.9991,1)" font-size="39.99" xml:space="preserve">Female</text>
<line x1="196.25" y1="1102.15" x2="196.25" y2="1382.60" stroke="#000" stroke-width="3.70"/>
<line x1="176.65" y1="1380.75" x2="545.00" y2="1380.75" stroke="#000" stroke-width="3.70"/>
<line x1="176.65" y1="1104.00" x2="196.25" y2="1104.00" stroke="#000" stroke-width="3.70"/>
<line x1="176.65" y1="1173.20" x2="196.25" y2="1173.20" stroke="#000" stroke-width="3.70"/>
<line x1="176.65" y1="1242.40" x2="196.25" y2="1242.40" stroke="#000" stroke-width="3.70"/>
<line x1="176.65" y1="1311.60" x2="196.25" y2="1311.60" stroke="#000" stroke-width="3.70"/>
<line x1="276.25" y1="1380.75" x2="276.25" y2="1401.25" stroke="#000" stroke-width="3.70"/>
<line x1="460.00" y1="1380.75" x2="460.00" y2="1401.25" stroke="#000" stroke-width="3.70"/>
<text transform="translate(125.71,1114.20) scale(0.9852,1)" font-size="39.99" xml:space="preserve">20</text>
<text transform="translate(125.84,1183.40) scale(0.9852,1)" font-size="39.99" xml:space="preserve">15</text>
<text transform="translate(125.71,1252.60) scale(0.9852,1)" font-size="39.99" xml:space="preserve">10</text>
<text transform="translate(147.77,1321.80) scale(0.9852,1)" font-size="39.99" xml:space="preserve">5</text>
<text transform="translate(147.64,1390.95) scale(0.9852,1)" font-size="39.99" xml:space="preserve">0</text>
<text transform="translate(50.00,1359.62) rotate(-90) scale(0.9333,1)" font-size="39.99" xml:space="preserve"><tspan font-style="italic">Leptin</tspan><tspan> mRNA</tspan></text>
<text transform="translate(99.50,1382.53) rotate(-90) scale(0.9495,1)" font-size="39.99" xml:space="preserve"><tspan>relative to </tspan><tspan font-style="italic">Hprt1</tspan></text>
<polyline points="231.30,1281.00 231.30,1180.25 307.50,1180.25 307.50,1208.50" fill="none" stroke="#000" stroke-width="3.70" stroke-linejoin="miter"/>
<text x="235.15" y="1185.02" font-size="51" letter-spacing="5.81">***</text>
<line x1="219.00" y1="1336.20" x2="265.00" y2="1336.20" stroke="#000" stroke-width="3.30"/>
<line x1="242.00" y1="1327.60" x2="242.00" y2="1344.60" stroke="#000" stroke-width="3.30"/>
<line x1="230.70" y1="1327.60" x2="253.30" y2="1327.60" stroke="#000" stroke-width="3.30"/>
<line x1="230.70" y1="1344.60" x2="253.30" y2="1344.60" stroke="#000" stroke-width="3.30"/>
<circle cx="231.30" cy="1312.80" r="6.90" fill="none" stroke="#000" stroke-width="3.70"/>
<circle cx="252.40" cy="1309.50" r="6.90" fill="none" stroke="#000" stroke-width="3.70"/>
<circle cx="255.10" cy="1326.80" r="6.90" fill="none" stroke="#000" stroke-width="3.70"/>
<circle cx="228.70" cy="1330.60" r="6.90" fill="none" stroke="#000" stroke-width="3.70"/>
<circle cx="241.60" cy="1344.60" r="6.90" fill="none" stroke="#000" stroke-width="3.70"/>
<circle cx="252.40" cy="1359.20" r="6.90" fill="none" stroke="#000" stroke-width="3.70"/>
<circle cx="231.30" cy="1368.00" r="6.90" fill="none" stroke="#000" stroke-width="3.70"/>
<line x1="288.30" y1="1276.70" x2="334.30" y2="1276.70" stroke="#000" stroke-width="3.30"/>
<line x1="311.30" y1="1262.40" x2="311.30" y2="1290.20" stroke="#000" stroke-width="3.30"/>
<line x1="300.00" y1="1262.40" x2="322.60" y2="1262.40" stroke="#000" stroke-width="3.30"/>
<line x1="300.00" y1="1290.20" x2="322.60" y2="1290.20" stroke="#000" stroke-width="3.30"/>
<path d="M311.30 1217.00L318.90 1224.60L311.30 1232.20L303.70 1224.60Z" fill="#ff6600"/>
<path d="M311.30 1245.10L318.90 1252.70L311.30 1260.30L303.70 1252.70Z" fill="#ff6600"/>
<path d="M300.40 1263.30L308.00 1270.90L300.40 1278.50L292.80 1270.90Z" fill="#ff6600"/>
<path d="M321.80 1267.40L329.40 1275.00L321.80 1282.60L314.20 1275.00Z" fill="#ff6600"/>
<path d="M305.40 1276.10L313.00 1283.70L305.40 1291.30L297.80 1283.70Z" fill="#ff6600"/>
<path d="M317.10 1279.10L324.70 1286.70L317.10 1294.30L309.50 1286.70Z" fill="#ff6600"/>
<path d="M311.30 1336.20L318.90 1343.80L311.30 1351.40L303.70 1343.80Z" fill="#ff6600"/>
<line x1="403.30" y1="1349.80" x2="449.30" y2="1349.80" stroke="#000" stroke-width="3.30"/>
<line x1="426.30" y1="1343.60" x2="426.30" y2="1355.20" stroke="#000" stroke-width="3.30"/>
<line x1="415.00" y1="1343.60" x2="437.60" y2="1343.60" stroke="#000" stroke-width="3.30"/>
<line x1="415.00" y1="1355.20" x2="437.60" y2="1355.20" stroke="#000" stroke-width="3.30"/>
<circle cx="404.80" cy="1328.80" r="6.90" fill="none" stroke="#000" stroke-width="3.70"/>
<circle cx="436.60" cy="1327.90" r="6.90" fill="none" stroke="#000" stroke-width="3.70"/>
<circle cx="413.00" cy="1352.70" r="6.90" fill="none" stroke="#000" stroke-width="3.70"/>
<circle cx="423.00" cy="1350.20" r="6.90" fill="none" stroke="#000" stroke-width="3.70"/>
<circle cx="432.90" cy="1350.20" r="6.90" fill="none" stroke="#000" stroke-width="3.70"/>
<circle cx="439.10" cy="1358.50" r="6.90" fill="none" stroke="#000" stroke-width="3.70"/>
<circle cx="425.90" cy="1373.40" r="6.90" fill="none" stroke="#000" stroke-width="3.70"/>
<line x1="472.40" y1="1320.70" x2="518.40" y2="1320.70" stroke="#000" stroke-width="3.30"/>
<line x1="495.40" y1="1313.90" x2="495.40" y2="1327.50" stroke="#000" stroke-width="3.30"/>
<line x1="484.10" y1="1313.90" x2="506.70" y2="1313.90" stroke="#000" stroke-width="3.30"/>
<line x1="484.10" y1="1327.50" x2="506.70" y2="1327.50" stroke="#000" stroke-width="3.30"/>
<path d="M495.30 1296.40L502.90 1304.00L495.30 1311.60L487.70 1304.00Z" fill="#ff6600"/>
<path d="M482.20 1305.00L489.80 1312.60L482.20 1320.20L474.60 1312.60Z" fill="#ff6600"/>
<path d="M508.30 1302.60L515.90 1310.20L508.30 1317.80L500.70 1310.20Z" fill="#ff6600"/>
<path d="M495.30 1318.30L502.90 1325.90L495.30 1333.50L487.70 1325.90Z" fill="#ff6600"/>
<path d="M506.00 1319.50L513.60 1327.10L506.00 1334.70L498.40 1327.10Z" fill="#ff6600"/>
<path d="M484.50 1339.40L492.10 1347.00L484.50 1354.60L476.90 1347.00Z" fill="#ff6600"/>
<text transform="translate(227.93,1442.75) scale(0.9959,1)" font-size="39.99" xml:space="preserve">Male</text>
<text transform="translate(394.70,1442.75) scale(0.9893,1)" font-size="39.99" xml:space="preserve">Female</text>
<line x1="804.50" y1="1102.15" x2="804.50" y2="1382.60" stroke="#000" stroke-width="3.70"/>
<line x1="784.90" y1="1380.75" x2="1153.00" y2="1380.75" stroke="#000" stroke-width="3.70"/>
<line x1="784.90" y1="1104.00" x2="804.50" y2="1104.00" stroke="#000" stroke-width="3.70"/>
<line x1="784.90" y1="1196.25" x2="804.50" y2="1196.25" stroke="#000" stroke-width="3.70"/>
<line x1="784.90" y1="1288.50" x2="804.50" y2="1288.50" stroke="#000" stroke-width="3.70"/>
<line x1="885.50" y1="1380.75" x2="885.50" y2="1401.25" stroke="#000" stroke-width="3.70"/>
<line x1="1068.75" y1="1380.75" x2="1068.75" y2="1401.25" stroke="#000" stroke-width="3.70"/>
<text transform="translate(733.71,1114.20) scale(0.9852,1)" font-size="39.99" xml:space="preserve">30</text>
<text transform="translate(733.71,1206.45) scale(0.9852,1)" font-size="39.99" xml:space="preserve">20</text>
<text transform="translate(733.71,1298.70) scale(0.9852,1)" font-size="39.99" xml:space="preserve">10</text>
<text transform="translate(755.64,1390.95) scale(0.9852,1)" font-size="39.99" xml:space="preserve">0</text>
<text transform="translate(658.00,1362.29) rotate(-90) scale(0.9171,1)" font-size="39.99" xml:space="preserve"><tspan font-style="italic">Adipoq</tspan><tspan> mRNA</tspan></text>
<text transform="translate(707.50,1382.53) rotate(-90) scale(0.9495,1)" font-size="39.99" xml:space="preserve"><tspan>relative to </tspan><tspan font-style="italic">Hprt1</tspan></text>
<polyline points="840.00,1261.00 840.00,1182.00 910.50,1182.00 910.50,1310.25" fill="none" stroke="#000" stroke-width="3.70" stroke-linejoin="miter"/>
<text x="858.80" y="1187.77" font-size="51">*</text>
<polyline points="920.75,1319.00 920.75,1180.25 1106.25,1180.25 1106.25,1209.00" fill="none" stroke="#000" stroke-width="3.70" stroke-linejoin="miter"/>
<text x="989.15" y="1187.77" font-size="51" letter-spacing="5.43">***</text>
<line x1="828.25" y1="1307.75" x2="874.25" y2="1307.75" stroke="#000" stroke-width="3.30"/>
<line x1="851.25" y1="1299.00" x2="851.25" y2="1316.50" stroke="#000" stroke-width="3.30"/>
<line x1="839.95" y1="1299.00" x2="862.55" y2="1299.00" stroke="#000" stroke-width="3.30"/>
<line x1="839.95" y1="1316.50" x2="862.55" y2="1316.50" stroke="#000" stroke-width="3.30"/>
<circle cx="863.75" cy="1277.75" r="6.90" fill="none" stroke="#000" stroke-width="3.70"/>
<circle cx="837.50" cy="1294.50" r="6.90" fill="none" stroke="#000" stroke-width="3.70"/>
<circle cx="851.25" cy="1300.25" r="6.90" fill="none" stroke="#000" stroke-width="3.70"/>
<circle cx="837.00" cy="1314.00" r="6.90" fill="none" stroke="#000" stroke-width="3.70"/>
<circle cx="863.75" cy="1325.25" r="6.90" fill="none" stroke="#000" stroke-width="3.70"/>
<circle cx="850.75" cy="1332.75" r="6.90" fill="none" stroke="#000" stroke-width="3.70"/>
<line x1="897.00" y1="1345.75" x2="943.00" y2="1345.75" stroke="#000" stroke-width="3.30"/>
<line x1="920.00" y1="1341.50" x2="920.00" y2="1349.00" stroke="#000" stroke-width="3.30"/>
<line x1="908.70" y1="1341.50" x2="931.30" y2="1341.50" stroke="#000" stroke-width="3.30"/>
<line x1="908.70" y1="1349.00" x2="931.30" y2="1349.00" stroke="#000" stroke-width="3.30"/>
<path d="M908.75 1320.15L916.35 1327.75L908.75 1335.35L901.15 1327.75Z" fill="#ff6600"/>
<path d="M907.50 1331.40L915.10 1339.00L907.50 1346.60L899.90 1339.00Z" fill="#ff6600"/>
<path d="M931.25 1327.65L938.85 1335.25L931.25 1342.85L923.65 1335.25Z" fill="#ff6600"/>
<path d="M915.00 1343.90L922.60 1351.50L915.00 1359.10L907.40 1351.50Z" fill="#ff6600"/>
<path d="M928.75 1342.65L936.35 1350.25L928.75 1357.85L921.15 1350.25Z" fill="#ff6600"/>
<path d="M923.75 1347.65L931.35 1355.25L923.75 1362.85L916.15 1355.25Z" fill="#ff6600"/>
<path d="M920.00 1351.40L927.60 1359.00L920.00 1366.60L912.40 1359.00Z" fill="#ff6600"/>
<line x1="1012.00" y1="1294.50" x2="1058.00" y2="1294.50" stroke="#000" stroke-width="3.30"/>
<line x1="1035.00" y1="1285.25" x2="1035.00" y2="1304.00" stroke="#000" stroke-width="3.30"/>
<line x1="1023.70" y1="1285.25" x2="1046.30" y2="1285.25" stroke="#000" stroke-width="3.30"/>
<line x1="1023.70" y1="1304.00" x2="1046.30" y2="1304.00" stroke="#000" stroke-width="3.30"/>
<circle cx="1035.00" cy="1251.00" r="6.90" fill="none" stroke="#000" stroke-width="3.70"/>
<circle cx="1023.00" cy="1275.25" r="6.90" fill="none" stroke="#000" stroke-width="3.70"/>
<circle cx="1047.50" cy="1284.50" r="6.90" fill="none" stroke="#000" stroke-width="3.70"/>
<circle cx="1022.50" cy="1309.00" r="6.90" fill="none" stroke="#000" stroke-width="3.70"/>
<circle cx="1045.00" cy="1309.00" r="6.90" fill="none" stroke="#000" stroke-width="3.70"/>
<circle cx="1040.00" cy="1301.50" r="6.90" fill="none" stroke="#000" stroke-width="3.70"/>
<circle cx="1028.75" cy="1320.75" r="6.90" fill="none" stroke="#000" stroke-width="3.70"/>
<line x1="1080.75" y1="1279.50" x2="1126.75" y2="1279.50" stroke="#000" stroke-width="3.30"/>
<line x1="1103.75" y1="1263.25" x2="1103.75" y2="1294.50" stroke="#000" stroke-width="3.30"/>
<line x1="1092.45" y1="1263.25" x2="1115.05" y2="1263.25" stroke="#000" stroke-width="3.30"/>
<line x1="1092.45" y1="1294.50" x2="1115.05" y2="1294.50" stroke="#000" stroke-width="3.30"/>
<path d="M1103.75 1213.90L1111.35 1221.50L1103.75 1229.10L1096.15 1221.50Z" fill="#ff6600"/>
<path d="M1103.75 1234.65L1111.35 1242.25L1103.75 1249.85L1096.15 1242.25Z" fill="#ff6600"/>
<path d="M1113.75 1285.90L1121.35 1293.50L1113.75 1301.10L1106.15 1293.50Z" fill="#ff6600"/>
<path d="M1092.50 1291.40L1100.10 1299.00L1092.50 1306.60L1084.90 1299.00Z" fill="#ff6600"/>
<path d="M1097.50 1302.65L1105.10 1310.25L1097.50 1317.85L1089.90 1310.25Z" fill="#ff6600"/>
<path d="M1110.00 1301.90L1117.60 1309.50L1110.00 1317.10L1102.40 1309.50Z" fill="#ff6600"/>
<text transform="translate(841.68,1442.75) scale(0.9959,1)" font-size="39.99" xml:space="preserve">Male</text>
<text transform="translate(1002.94,1442.75) scale(0.9932,1)" font-size="39.99" xml:space="preserve">Female</text>
<line x1="1378.75" y1="1103.90" x2="1378.75" y2="1385.10" stroke="#000" stroke-width="3.70"/>
<line x1="1359.15" y1="1383.25" x2="1725.00" y2="1383.25" stroke="#000" stroke-width="3.70"/>
<line x1="1359.15" y1="1105.75" x2="1378.75" y2="1105.75" stroke="#000" stroke-width="3.70"/>
<line x1="1359.15" y1="1161.25" x2="1378.75" y2="1161.25" stroke="#000" stroke-width="3.70"/>
<line x1="1359.15" y1="1216.75" x2="1378.75" y2="1216.75" stroke="#000" stroke-width="3.70"/>
<line x1="1359.15" y1="1272.25" x2="1378.75" y2="1272.25" stroke="#000" stroke-width="3.70"/>
<line x1="1359.15" y1="1327.75" x2="1378.75" y2="1327.75" stroke="#000" stroke-width="3.70"/>
<line x1="1458.75" y1="1383.25" x2="1458.75" y2="1403.75" stroke="#000" stroke-width="3.70"/>
<line x1="1641.75" y1="1383.25" x2="1641.75" y2="1403.75" stroke="#000" stroke-width="3.70"/>
<text transform="translate(1328.52,1115.95) scale(0.9852,1)" font-size="39.99" xml:space="preserve">5</text>
<text transform="translate(1328.00,1171.45) scale(0.9852,1)" font-size="39.99" xml:space="preserve">4</text>
<text transform="translate(1328.52,1226.95) scale(0.9852,1)" font-size="39.99" xml:space="preserve">3</text>
<text transform="translate(1328.79,1282.45) scale(0.9852,1)" font-size="39.99" xml:space="preserve">2</text>
<text transform="translate(1328.79,1337.95) scale(0.9852,1)" font-size="39.99" xml:space="preserve">1</text>
<text transform="translate(1328.39,1393.45) scale(0.9852,1)" font-size="39.99" xml:space="preserve">0</text>
<text transform="translate(1302.50,1408.87) rotate(-90) scale(0.9370,1)" font-size="39.99" xml:space="preserve"><tspan font-style="italic">Leptin:Adipoq</tspan><tspan> ratio</tspan></text>
<polyline points="1427.50,1305.25 1427.50,1127.75 1489.50,1127.75 1489.50,1144.50" fill="none" stroke="#000" stroke-width="3.70" stroke-linejoin="miter"/>
<text x="1422.90" y="1139.52" font-size="51" letter-spacing="5.18">***</text>
<polyline points="1502.50,1144.50 1502.50,1127.75 1678.25,1127.75 1678.25,1319.00" fill="none" stroke="#000" stroke-width="3.70" stroke-linejoin="miter"/>
<text x="1546.65" y="1139.52" font-size="51" letter-spacing="4.81">***</text>
<line x1="1401.25" y1="1360.75" x2="1447.25" y2="1360.75" stroke="#000" stroke-width="3.30"/>
<line x1="1424.25" y1="1356.50" x2="1424.25" y2="1365.25" stroke="#000" stroke-width="3.30"/>
<line x1="1412.95" y1="1356.50" x2="1435.55" y2="1356.50" stroke="#000" stroke-width="3.30"/>
<line x1="1412.95" y1="1365.25" x2="1435.55" y2="1365.25" stroke="#000" stroke-width="3.30"/>
<circle cx="1424.25" cy="1337.75" r="6.90" fill="none" stroke="#000" stroke-width="3.70"/>
<circle cx="1412.50" cy="1359.00" r="6.90" fill="none" stroke="#000" stroke-width="3.70"/>
<circle cx="1437.50" cy="1360.25" r="6.90" fill="none" stroke="#000" stroke-width="3.70"/>
<circle cx="1418.75" cy="1369.00" r="6.90" fill="none" stroke="#000" stroke-width="3.70"/>
<circle cx="1431.25" cy="1370.25" r="6.90" fill="none" stroke="#000" stroke-width="3.70"/>
<circle cx="1424.25" cy="1376.50" r="6.90" fill="none" stroke="#000" stroke-width="3.70"/>
<circle cx="1424.00" cy="1362.00" r="6.90" fill="none" stroke="#000" stroke-width="3.70"/>
<line x1="1470.00" y1="1267.00" x2="1516.00" y2="1267.00" stroke="#000" stroke-width="3.30"/>
<line x1="1493.00" y1="1245.25" x2="1493.00" y2="1288.25" stroke="#000" stroke-width="3.30"/>
<line x1="1481.70" y1="1245.25" x2="1504.30" y2="1245.25" stroke="#000" stroke-width="3.30"/>
<line x1="1481.70" y1="1288.25" x2="1504.30" y2="1288.25" stroke="#000" stroke-width="3.30"/>
<path d="M1493.00 1155.65L1500.60 1163.25L1493.00 1170.85L1485.40 1163.25Z" fill="#ff6600"/>
<path d="M1493.00 1213.15L1500.60 1220.75L1493.00 1228.35L1485.40 1220.75Z" fill="#ff6600"/>
<path d="M1493.00 1245.65L1500.60 1253.25L1493.00 1260.85L1485.40 1253.25Z" fill="#ff6600"/>
<path d="M1482.00 1290.65L1489.60 1298.25L1482.00 1305.85L1474.40 1298.25Z" fill="#ff6600"/>
<path d="M1504.50 1288.90L1512.10 1296.50L1504.50 1304.10L1496.90 1296.50Z" fill="#ff6600"/>
<path d="M1486.75 1309.40L1494.35 1317.00L1486.75 1324.60L1479.15 1317.00Z" fill="#ff6600"/>
<path d="M1498.75 1309.40L1506.35 1317.00L1498.75 1324.60L1491.15 1317.00Z" fill="#ff6600"/>
<line x1="1584.75" y1="1368.25" x2="1630.75" y2="1368.25" stroke="#000" stroke-width="3.30"/>
<line x1="1607.75" y1="1364.50" x2="1607.75" y2="1372.00" stroke="#000" stroke-width="3.30"/>
<line x1="1596.45" y1="1364.50" x2="1619.05" y2="1364.50" stroke="#000" stroke-width="3.30"/>
<line x1="1596.45" y1="1372.00" x2="1619.05" y2="1372.00" stroke="#000" stroke-width="3.30"/>
<circle cx="1597.50" cy="1356.00" r="6.90" fill="none" stroke="#000" stroke-width="3.70"/>
<circle cx="1618.75" cy="1356.00" r="6.90" fill="none" stroke="#000" stroke-width="3.70"/>
<circle cx="1595.00" cy="1366.50" r="6.90" fill="none" stroke="#000" stroke-width="3.70"/>
<circle cx="1607.50" cy="1367.75" r="6.90" fill="none" stroke="#000" stroke-width="3.70"/>
<circle cx="1620.00" cy="1367.00" r="6.90" fill="none" stroke="#000" stroke-width="3.70"/>
<circle cx="1601.25" cy="1374.00" r="6.90" fill="none" stroke="#000" stroke-width="3.70"/>
<circle cx="1613.75" cy="1374.00" r="6.90" fill="none" stroke="#000" stroke-width="3.70"/>
<circle cx="1607.50" cy="1380.25" r="6.90" fill="none" stroke="#000" stroke-width="3.70"/>
<line x1="1653.25" y1="1357.75" x2="1699.25" y2="1357.75" stroke="#000" stroke-width="3.30"/>
<line x1="1676.25" y1="1351.50" x2="1676.25" y2="1364.00" stroke="#000" stroke-width="3.30"/>
<line x1="1664.95" y1="1351.50" x2="1687.55" y2="1351.50" stroke="#000" stroke-width="3.30"/>
<line x1="1664.95" y1="1364.00" x2="1687.55" y2="1364.00" stroke="#000" stroke-width="3.30"/>
<path d="M1663.25 1337.65L1670.85 1345.25L1663.25 1352.85L1655.65 1345.25Z" fill="#ff6600"/>
<path d="M1689.25 1336.40L1696.85 1344.00L1689.25 1351.60L1681.65 1344.00Z" fill="#ff6600"/>
<path d="M1676.25 1343.90L1683.85 1351.50L1676.25 1359.10L1668.65 1351.50Z" fill="#ff6600"/>
<path d="M1663.75 1352.65L1671.35 1360.25L1663.75 1367.85L1656.15 1360.25Z" fill="#ff6600"/>
<path d="M1689.25 1363.90L1696.85 1371.50L1689.25 1379.10L1681.65 1371.50Z" fill="#ff6600"/>
<path d="M1676.25 1366.40L1683.85 1374.00L1676.25 1381.60L1668.65 1374.00Z" fill="#ff6600"/>
<text transform="translate(1419.39,1445.25) scale(0.9346,1)" font-size="39.99" xml:space="preserve">Male</text>
<text transform="translate(1580.67,1445.25) scale(0.9251,1)" font-size="39.99" xml:space="preserve">Female</text>
<line x1="2053.25" y1="1103.40" x2="2053.25" y2="1383.35" stroke="#000" stroke-width="3.70"/>
<line x1="2033.65" y1="1381.50" x2="2402.50" y2="1381.50" stroke="#000" stroke-width="3.70"/>
<line x1="2033.65" y1="1105.25" x2="2053.25" y2="1105.25" stroke="#000" stroke-width="3.70"/>
<line x1="2033.65" y1="1174.30" x2="2053.25" y2="1174.30" stroke="#000" stroke-width="3.70"/>
<line x1="2033.65" y1="1243.40" x2="2053.25" y2="1243.40" stroke="#000" stroke-width="3.70"/>
<line x1="2033.65" y1="1312.40" x2="2053.25" y2="1312.40" stroke="#000" stroke-width="3.70"/>
<line x1="2134.25" y1="1381.50" x2="2134.25" y2="1402.00" stroke="#000" stroke-width="3.70"/>
<line x1="2317.50" y1="1381.50" x2="2317.50" y2="1402.00" stroke="#000" stroke-width="3.70"/>
<text transform="translate(1929.19,1115.45) scale(0.9852,1)" font-size="39.99" xml:space="preserve">0.020</text>
<text transform="translate(1929.33,1184.50) scale(0.9852,1)" font-size="39.99" xml:space="preserve">0.015</text>
<text transform="translate(1929.19,1253.60) scale(0.9852,1)" font-size="39.99" xml:space="preserve">0.010</text>
<text transform="translate(1929.33,1322.60) scale(0.9852,1)" font-size="39.99" xml:space="preserve">0.005</text>
<text transform="translate(1929.19,1391.70) scale(0.9852,1)" font-size="39.99" xml:space="preserve">0.000</text>
<text transform="translate(1853.75,1342.31) rotate(-90) scale(0.9078,1)" font-size="39.99" xml:space="preserve"><tspan font-style="italic">Apln</tspan><tspan> mRNA</tspan></text>
<text transform="translate(1903.75,1382.53) rotate(-90) scale(0.9495,1)" font-size="39.99" xml:space="preserve"><tspan>relative to </tspan><tspan font-style="italic">Hprt1</tspan></text>
<line x1="2076.25" y1="1305.25" x2="2122.25" y2="1305.25" stroke="#000" stroke-width="3.30"/>
<line x1="2099.25" y1="1286.50" x2="2099.25" y2="1324.50" stroke="#000" stroke-width="3.30"/>
<line x1="2087.95" y1="1286.50" x2="2110.55" y2="1286.50" stroke="#000" stroke-width="3.30"/>
<line x1="2087.95" y1="1324.50" x2="2110.55" y2="1324.50" stroke="#000" stroke-width="3.30"/>
<circle cx="2110.00" cy="1243.50" r="6.90" fill="none" stroke="#000" stroke-width="3.70"/>
<circle cx="2088.75" cy="1253.50" r="6.90" fill="none" stroke="#000" stroke-width="3.70"/>
<circle cx="2088.75" cy="1315.25" r="6.90" fill="none" stroke="#000" stroke-width="3.70"/>
<circle cx="2121.25" cy="1323.25" r="6.90" fill="none" stroke="#000" stroke-width="3.70"/>
<circle cx="2110.00" cy="1339.00" r="6.90" fill="none" stroke="#000" stroke-width="3.70"/>
<circle cx="2088.75" cy="1359.75" r="6.90" fill="none" stroke="#000" stroke-width="3.70"/>
<line x1="2145.75" y1="1299.00" x2="2191.75" y2="1299.00" stroke="#000" stroke-width="3.30"/>
<line x1="2168.75" y1="1282.75" x2="2168.75" y2="1314.75" stroke="#000" stroke-width="3.30"/>
<line x1="2157.45" y1="1282.75" x2="2180.05" y2="1282.75" stroke="#000" stroke-width="3.30"/>
<line x1="2157.45" y1="1314.75" x2="2180.05" y2="1314.75" stroke="#000" stroke-width="3.30"/>
<path d="M2168.25 1224.65L2175.85 1232.25L2168.25 1239.85L2160.65 1232.25Z" fill="#ff6600"/>
<path d="M2168.25 1258.90L2175.85 1266.50L2168.25 1274.10L2160.65 1266.50Z" fill="#ff6600"/>
<path d="M2157.50 1273.15L2165.10 1280.75L2157.50 1288.35L2149.90 1280.75Z" fill="#ff6600"/>
<path d="M2179.50 1292.15L2187.10 1299.75L2179.50 1307.35L2171.90 1299.75Z" fill="#ff6600"/>
<path d="M2155.00 1323.90L2162.60 1331.50L2155.00 1339.10L2147.40 1331.50Z" fill="#ff6600"/>
<path d="M2181.25 1329.65L2188.85 1337.25L2181.25 1344.85L2173.65 1337.25Z" fill="#ff6600"/>
<path d="M2168.25 1337.65L2175.85 1345.25L2168.25 1352.85L2160.65 1345.25Z" fill="#ff6600"/>
<line x1="2260.75" y1="1325.25" x2="2306.75" y2="1325.25" stroke="#000" stroke-width="3.30"/>
<line x1="2283.75" y1="1311.50" x2="2283.75" y2="1339.00" stroke="#000" stroke-width="3.30"/>
<line x1="2272.45" y1="1311.50" x2="2295.05" y2="1311.50" stroke="#000" stroke-width="3.30"/>
<line x1="2272.45" y1="1339.00" x2="2295.05" y2="1339.00" stroke="#000" stroke-width="3.30"/>
<circle cx="2283.75" cy="1264.75" r="6.90" fill="none" stroke="#000" stroke-width="3.70"/>
<circle cx="2272.50" cy="1329.00" r="6.90" fill="none" stroke="#000" stroke-width="3.70"/>
<circle cx="2295.00" cy="1327.75" r="6.90" fill="none" stroke="#000" stroke-width="3.70"/>
<circle cx="2279.00" cy="1332.75" r="6.90" fill="none" stroke="#000" stroke-width="3.70"/>
<circle cx="2290.00" cy="1337.75" r="6.90" fill="none" stroke="#000" stroke-width="3.70"/>
<circle cx="2283.75" cy="1369.00" r="6.90" fill="none" stroke="#000" stroke-width="3.70"/>
<line x1="2330.00" y1="1280.75" x2="2376.00" y2="1280.75" stroke="#000" stroke-width="3.30"/>
<line x1="2353.00" y1="1252.75" x2="2353.00" y2="1309.00" stroke="#000" stroke-width="3.30"/>
<line x1="2341.70" y1="1252.75" x2="2364.30" y2="1252.75" stroke="#000" stroke-width="3.30"/>
<line x1="2341.70" y1="1309.00" x2="2364.30" y2="1309.00" stroke="#000" stroke-width="3.30"/>
<path d="M2353.00 1175.65L2360.60 1183.25L2353.00 1190.85L2345.40 1183.25Z" fill="#ff6600"/>
<path d="M2353.00 1200.15L2360.60 1207.75L2353.00 1215.35L2345.40 1207.75Z" fill="#ff6600"/>
<path d="M2342.00 1293.15L2349.60 1300.75L2342.00 1308.35L2334.40 1300.75Z" fill="#ff6600"/>
<path d="M2374.25 1305.65L2381.85 1313.25L2374.25 1320.85L2366.65 1313.25Z" fill="#ff6600"/>
<path d="M2363.75 1323.40L2371.35 1331.00L2363.75 1338.60L2356.15 1331.00Z" fill="#ff6600"/>
<path d="M2342.00 1342.65L2349.60 1350.25L2342.00 1357.85L2334.40 1350.25Z" fill="#ff6600"/>
<text transform="translate(2085.43,1444.00) scale(0.9959,1)" font-size="39.99" xml:space="preserve">Male</text>
<text transform="translate(2251.69,1444.00) scale(0.9932,1)" font-size="39.99" xml:space="preserve">Female</text>
<circle cx="2070.75" cy="1058.25" r="6.3" fill="none" stroke="#000" stroke-width="3.2"/>
<text x="2091.9" y="1070.5" font-size="39.6" letter-spacing="-8.6">NC</text>
<path d="M2195.75 1050.85L2203.15 1058.25L2195.75 1065.65L2188.35 1058.25Z" fill="#ff6600"/>
<text x="2214.7" y="1070.5" font-size="39.6" letter-spacing="-7.4">HF</text>
</svg>
</body></html>
